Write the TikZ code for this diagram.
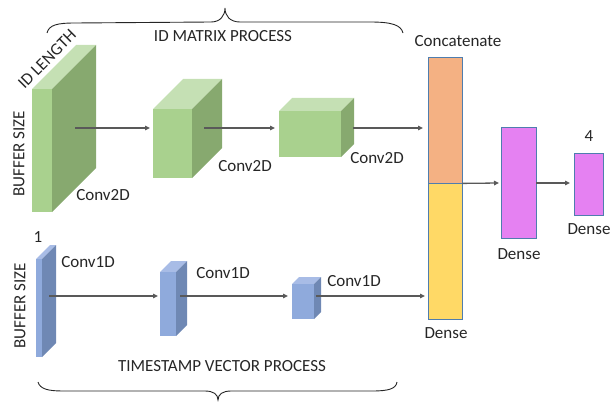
\documentclass[tikz,border=0pt]{standalone}
\usepackage{fontspec}
\setmainfont{Carlito}
\usetikzlibrary{arrows.meta}
\definecolor{gF}{HTML}{A9D18E}
\definecolor{gS}{HTML}{87A96F}
\definecolor{gT}{HTML}{C5E0B4}
\definecolor{bF}{HTML}{8FAADC}
\definecolor{bS}{HTML}{6F88B4}
\definecolor{bT}{HTML}{A8BCE6}
\definecolor{orangeC}{HTML}{F4B183}
\definecolor{yellowC}{HTML}{FFD966}
\definecolor{magC}{HTML}{E581F2}
\definecolor{edgeC}{HTML}{4F7DAE}
\definecolor{arrC}{HTML}{595959}
\definecolor{txtC}{HTML}{262626}
\newcommand\mycuboid[9]{%
  \fill[#8] (#2,#3) -- ({#2+#6},{#3-#6}) -- ({#4+#6},{#3-#6}) -- (#4,#3) -- cycle;
  \fill[#9] (#4,#3) -- ({#4+#6},{#3-#6}) -- ({#4+#6},{#5-#6}) -- (#4,#5) -- cycle;
  \fill[#7] (#2,#3) rectangle (#4,#5);
  \coordinate (#1) at ({(#2+#4)/2},{(#3+#5)/2});
}
\begin{document}
\begin{tikzpicture}[x=1pt,y=-1pt,
  every node/.style={inner sep=0pt,text=txtC,font=\fontsize{17}{20}\selectfont},
  conn/.style={draw=arrC,line width=1.3pt,-{Triangle[length=5pt,width=4.5pt]}},
  bracestyle/.style={draw=black!85,line width=0.9pt},
  layerbox/.style={draw=edgeC,line width=0.8pt,minimum width=34pt},
]
\useasboundingbox (0,0) rectangle (612,401);
% green cuboids
\mycuboid{g1}{32}{89}{52}{212}{44}{gF}{gT}{gS}
\mycuboid{g2}{153}{109}{192}{178}{30}{gF}{gT}{gS}
\mycuboid{g3}{279}{111}{341}{157}{13}{gF}{gT}{gS}
% blue cuboids
\mycuboid{b1}{36}{259}{42}{357}{14}{bF}{bT}{bS}
\mycuboid{b2}{160}{272}{176}{336}{11}{bF}{bT}{bS}
\mycuboid{b3}{292}{284}{314}{319}{7}{bF}{bT}{bS}
% concatenate and dense
\node[layerbox,fill=orangeC,minimum height=126pt] (catA) at (445,120) {};
\node[layerbox,fill=yellowC,minimum height=136pt] (catB) at (445,251) {};
\node[layerbox,fill=magC,minimum width=35pt,minimum height=111pt] (d1) at (518.5,182.5) {};
\node[layerbox,fill=magC,minimum width=29pt,minimum height=62pt] (d2) at (588.5,184) {};
% arrow coordinates
\coordinate (a1s) at (75,128);  \coordinate (a1e) at (150,128);
\coordinate (a2s) at (204,128); \coordinate (a2e) at (275,128);
\coordinate (a3s) at (353,128); \coordinate (a3e) at (423,128);
\coordinate (c1s) at (49,296);  \coordinate (c1e) at (158,296);
\coordinate (c2s) at (180,296); \coordinate (c2e) at (288,296);
\coordinate (c3s) at (316,296); \coordinate (c3e) at (425,296);
\coordinate (m1e) at (499,183);
\coordinate (m2e) at (570,183);
\draw[conn] (a1s) -- (a1e);
\draw[conn] (a2s) -- (a2e);
\draw[conn] (a3s) -- (a3e);
\draw[conn] (c1s) -- (c1e);
\draw[conn] (c2s) -- (c2e);
\draw[conn] (c3s) -- (c3e);
\draw[conn] (catA.south east) -- (m1e);
\draw[conn] (d1.east |- m1e) -- (m2e);
% braces
\draw[bracestyle] (47,33) .. controls (49,25) and (57,23) .. (75,23) -- (211,22)
  .. controls (220,22) and (225,16) .. (225,8)
  .. controls (225,16) and (230,22) .. (240,22) -- (370,22)
  .. controls (392,22) and (401,25) .. (403,33);
\draw[bracestyle] (38,382) .. controls (40,389) and (48,391) .. (63,391) -- (205,391)
  .. controls (213,391) and (218,394) .. (218,400)
  .. controls (218,394) and (223,391) .. (231,391) -- (372,391)
  .. controls (388,391) and (396,389) .. (397,382);
% texts
\node (t1) at (223,36) {ID MATRIX PROCESS};
\node[rotate=45] (t2) at (47,59) {ID LENGTH};
\node[rotate=90] (t3) at (19,154) {BUFFER SIZE};
\node[rotate=90] (t4) at (20,306) {BUFFER SIZE};
\node (t5) at (103,195) {Conv2D};
\node (t6) at (245,166) {Conv2D};
\node (t7) at (377,158) {Conv2D};
\node (t8) at (88,262) {Conv1D};
\node (t9) at (223,273) {Conv1D};
\node (t10) at (354,281) {Conv1D};
\node (t11) at (38,237) {1};
\node (t12) at (458,41) {Concatenate};
\node (t13) at (446,333) {Dense};
\node (t14) at (519,254) {Dense};
\node (t15) at (589,229) {Dense};
\node (t16) at (589,136) {4};
\node (t17) at (222,366) {TIMESTAMP VECTOR PROCESS};
\end{tikzpicture}
\end{document}
